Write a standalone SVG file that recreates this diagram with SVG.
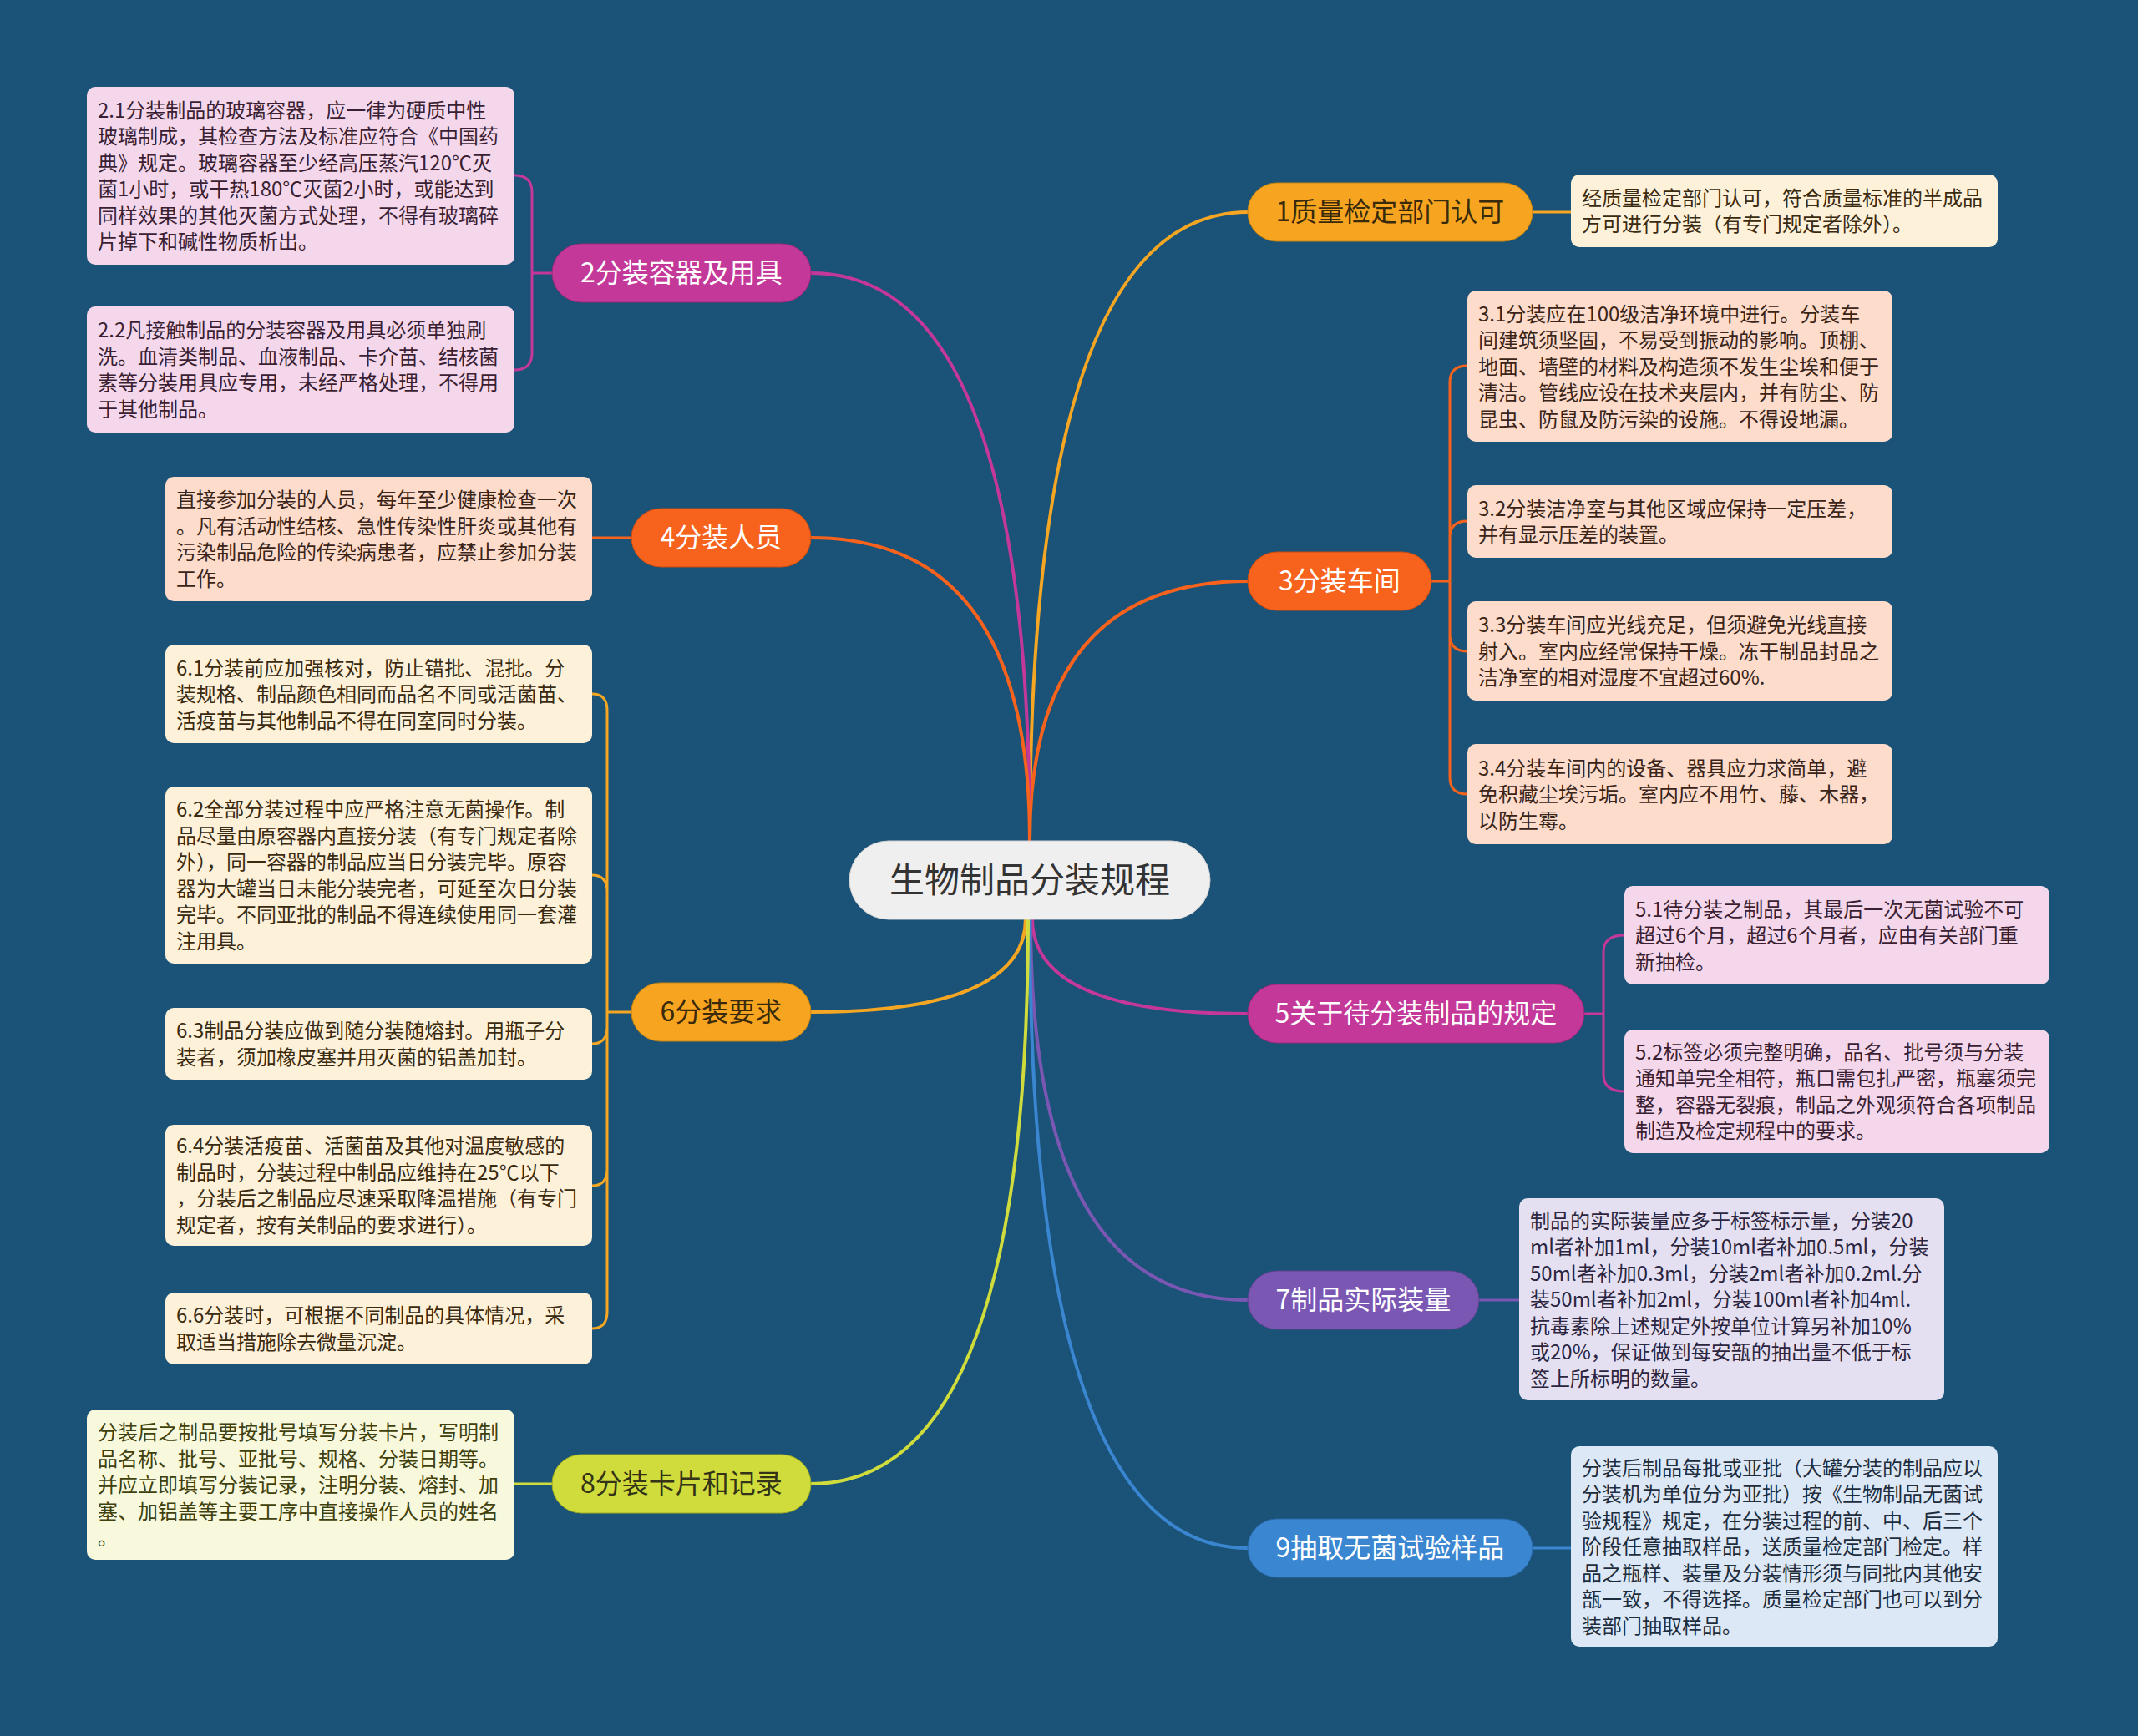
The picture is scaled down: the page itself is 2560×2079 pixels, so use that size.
<svg xmlns="http://www.w3.org/2000/svg" width="2560" height="2079" viewBox="0 0 2560 2079">
<style>
text{font-family:"Noto Sans CJK SC","Noto Sans",sans-serif}
.leaf{font-size:24px}
.br{font-size:32px;text-anchor:middle}
.w{fill:#ffffff}
.d{fill:#3a2a0c}
.c{fill:none;stroke-width:4;stroke-linecap:round}
.lk{fill:none;stroke-width:3;stroke-linecap:round}
</style>
<rect width="2560" height="2079" fill="#1a5377"/>
<g id="connectors">
<path class="c" stroke="#f5a623" d="M1233 1007 Q1233 254 1494 254"/>
<path class="c" stroke="#f7621d" d="M1233 1007 Q1233 696 1494 696"/>
<path class="c" stroke="#c4389a" d="M1233 1007 Q1233 327 971 327"/>
<path class="c" stroke="#f7621d" d="M1233 1007 Q1233 644 971 644"/>
<path class="c" stroke="#c4389a" d="M1236 1100 Q1236 1214 1494 1214"/>
<path class="c" stroke="#7b57b4" d="M1234 1100 Q1234 1557 1494 1557"/>
<path class="c" stroke="#3a86d1" d="M1233 1100 Q1233 1854 1494 1854"/>
<path class="c" stroke="#f5a623" d="M1228 1100 Q1228 1212 971 1212"/>
<path class="c" stroke="#cfdc3c" d="M1231 1100 Q1231 1777 971 1777"/>
<path class="lk" stroke="#f5a623" d="M1835 254 L1881 254"/>
<path class="lk" stroke="#f7621d" d="M1714 696 H1736 M1736 696 V458 Q1736 438 1757 438 M1736 696 V644 Q1736 624 1757 624 M1736 696 V760 Q1736 780 1757 780 M1736 696 V931 Q1736 951 1757 951"/>
<path class="lk" stroke="#c4389a" d="M661 327 H637 M637 327 V230 Q637 210 616 210 M637 327 V423 Q637 443 616 443"/>
<path class="lk" stroke="#f7621d" d="M756 644 L709 644"/>
<path class="lk" stroke="#f5a623" d="M756 1212 H727 M727 1212 V851 Q727 831 709 831 M727 1212 V1068 Q727 1048 709 1048 M727 1212 V1230 Q727 1250 709 1250 M727 1212 V1400 Q727 1420 709 1420 M727 1212 V1571 Q727 1591 709 1591"/>
<path class="lk" stroke="#c4389a" d="M1897 1214 H1920 M1920 1214 V1140 Q1920 1120 1945 1120 M1920 1214 V1287 Q1920 1307 1945 1307"/>
<path class="lk" stroke="#7b57b4" d="M1771 1557 L1819 1557"/>
<path class="lk" stroke="#3a86d1" d="M1835 1854 L1881 1854"/>
<path class="lk" stroke="#cfdc3c" d="M661 1777 L616 1777"/>
</g>
<g id="center">
<rect x="1017" y="1007" width="432" height="94" rx="47" fill="#efefef" stroke="#d0d0d0"/>
<text x="1233" y="1069" font-size="42" text-anchor="middle" fill="#333333">生物制品分装规程</text>
</g>
<g id="n1">
<rect x="1494" y="219" width="341" height="70" rx="35" fill="#f7a520" stroke="#c88410"/>
<text class="br d" x="1664.5" y="265">1质量检定部门认可</text>
</g>
<g id="n3">
<rect x="1494" y="661" width="220" height="70" rx="35" fill="#f7621d" stroke="#c84c10"/>
<text class="br w" x="1604" y="707">3分装车间</text>
</g>
<g id="n5">
<rect x="1494" y="1179" width="403" height="70" rx="35" fill="#c4389a" stroke="#9a2a78"/>
<text class="br w" x="1695.5" y="1225">5关于待分装制品的规定</text>
</g>
<g id="n7">
<rect x="1494" y="1522" width="277" height="70" rx="35" fill="#7b57b4" stroke="#5e4190"/>
<text class="br w" x="1632.5" y="1568">7制品实际装量</text>
</g>
<g id="n9">
<rect x="1494" y="1819" width="341" height="70" rx="35" fill="#3a86d1" stroke="#2a68a8"/>
<text class="br w" x="1664.5" y="1865">9抽取无菌试验样品</text>
</g>
<g id="n2">
<rect x="661" y="292" width="310" height="70" rx="35" fill="#c4389a" stroke="#9a2a78"/>
<text class="br w" x="816" y="338">2分装容器及用具</text>
</g>
<g id="n4">
<rect x="756" y="609" width="215" height="70" rx="35" fill="#f7621d" stroke="#c84c10"/>
<text class="br w" x="863.5" y="655">4分装人员</text>
</g>
<g id="n6">
<rect x="756" y="1177" width="215" height="70" rx="35" fill="#f7a520" stroke="#c88410"/>
<text class="br d" x="863.5" y="1223">6分装要求</text>
</g>
<g id="n8">
<rect x="661" y="1742" width="310" height="70" rx="35" fill="#cfdc3c" stroke="#a0ae20"/>
<text class="br" x="816" y="1788" fill="#333318">8分装卡片和记录</text>
</g>
<g id="leaf1">
<rect x="1881" y="209" width="511" height="87" rx="10" fill="#fef1d9"/>
<text class="leaf" fill="#3a2a10" x="1894" y="245.75"><tspan x="1894">经质量检定部门认可，符合质量标准的半成品</tspan><tspan x="1894" dy="31.5">方可进行分装（有专门规定者除外）。</tspan></text>
</g>
<g id="leaf2-1">
<rect x="104" y="104" width="512" height="213" rx="10" fill="#f5d7ec"/>
<text class="leaf" fill="#3a1f33" y="140.75"><tspan x="117">2.1分装制品的玻璃容器，应一律为硬质中性</tspan><tspan x="117" dy="31.5">玻璃制成，其检查方法及标准应符合《中国药</tspan><tspan x="117" dy="31.5">典》规定。玻璃容器至少经高压蒸汽120℃灭</tspan><tspan x="117" dy="31.5">菌1小时，或干热180℃灭菌2小时，或能达到</tspan><tspan x="117" dy="31.5">同样效果的其他灭菌方式处理，不得有玻璃碎</tspan><tspan x="117" dy="31.5">片掉下和碱性物质析出。</tspan></text>
</g>
<g id="leaf2-2">
<rect x="104" y="367" width="512" height="151" rx="10" fill="#f5d7ec"/>
<text class="leaf" fill="#3a1f33" y="404.25"><tspan x="117">2.2凡接触制品的分装容器及用具必须单独刷</tspan><tspan x="117" dy="31.5">洗。血清类制品、血液制品、卡介苗、结核菌</tspan><tspan x="117" dy="31.5">素等分装用具应专用，未经严格处理，不得用</tspan><tspan x="117" dy="31.5">于其他制品。</tspan></text>
</g>
<g id="leaf4">
<rect x="198" y="571" width="511" height="149" rx="10" fill="#fddccb"/>
<text class="leaf" fill="#3a2418" y="607.25"><tspan x="211">直接参加分装的人员，每年至少健康检查一次</tspan><tspan x="211" dy="31.5">。凡有活动性结核、急性传染性肝炎或其他有</tspan><tspan x="211" dy="31.5">污染制品危险的传染病患者，应禁止参加分装</tspan><tspan x="211" dy="31.5">工作。</tspan></text>
</g>
<g id="leaf6-1">
<rect x="198" y="772" width="511" height="118" rx="10" fill="#fef1d9"/>
<text class="leaf" fill="#3a2a10" y="808.5"><tspan x="211">6.1分装前应加强核对，防止错批、混批。分</tspan><tspan x="211" dy="31.5">装规格、制品颜色相同而品名不同或活菌苗、</tspan><tspan x="211" dy="31.5">活疫苗与其他制品不得在同室同时分装。</tspan></text>
</g>
<g id="leaf6-2">
<rect x="198" y="942" width="511" height="212" rx="10" fill="#fef1d9"/>
<text class="leaf" fill="#3a2a10" y="978.25"><tspan x="211">6.2全部分装过程中应严格注意无菌操作。制</tspan><tspan x="211" dy="31.5">品尽量由原容器内直接分装（有专门规定者除</tspan><tspan x="211" dy="31.5">外），同一容器的制品应当日分装完毕。原容</tspan><tspan x="211" dy="31.5">器为大罐当日未能分装完者，可延至次日分装</tspan><tspan x="211" dy="31.5">完毕。不同亚批的制品不得连续使用同一套灌</tspan><tspan x="211" dy="31.5">注用具。</tspan></text>
</g>
<g id="leaf6-3">
<rect x="198" y="1207" width="511" height="86" rx="10" fill="#fef1d9"/>
<text class="leaf" fill="#3a2a10" y="1243.25"><tspan x="211">6.3制品分装应做到随分装随熔封。用瓶子分</tspan><tspan x="211" dy="31.5">装者，须加橡皮塞并用灭菌的铝盖加封。</tspan></text>
</g>
<g id="leaf6-4">
<rect x="198" y="1347" width="511" height="145" rx="10" fill="#fef1d9"/>
<text class="leaf" fill="#3a2a10" y="1381.25"><tspan x="211">6.4分装活疫苗、活菌苗及其他对温度敏感的</tspan><tspan x="211" dy="31.5">制品时，分装过程中制品应维持在25℃以下</tspan><tspan x="211" dy="31.5">，分装后之制品应尽速采取降温措施（有专门</tspan><tspan x="211" dy="31.5">规定者，按有关制品的要求进行）。</tspan></text>
</g>
<g id="leaf6-6">
<rect x="198" y="1548" width="511" height="86" rx="10" fill="#fef1d9"/>
<text class="leaf" fill="#3a2a10" y="1584.25"><tspan x="211">6.6分装时，可根据不同制品的具体情况，采</tspan><tspan x="211" dy="31.5">取适当措施除去微量沉淀。</tspan></text>
</g>
<g id="leaf8">
<rect x="104" y="1688" width="512" height="180" rx="10" fill="#f7f8dc"/>
<text class="leaf" fill="#40400c" y="1724"><tspan x="117">分装后之制品要按批号填写分装卡片，写明制</tspan><tspan x="117" dy="31.5">品名称、批号、亚批号、规格、分装日期等。</tspan><tspan x="117" dy="31.5">并应立即填写分装记录，注明分装、熔封、加</tspan><tspan x="117" dy="31.5">塞、加铝盖等主要工序中直接操作人员的姓名</tspan><tspan x="117" dy="31.5">。</tspan></text>
</g>
<g id="leaf3-1">
<rect x="1757" y="348" width="509" height="181" rx="10" fill="#fddccb"/>
<text class="leaf" fill="#3a2418" y="384.5"><tspan x="1770">3.1分装应在100级洁净环境中进行。分装车</tspan><tspan x="1770" dy="31.5">间建筑须坚固，不易受到振动的影响。顶棚、</tspan><tspan x="1770" dy="31.5">地面、墙壁的材料及构造须不发生尘埃和便于</tspan><tspan x="1770" dy="31.5">清洁。管线应设在技术夹层内，并有防尘、防</tspan><tspan x="1770" dy="31.5">昆虫、防鼠及防污染的设施。不得设地漏。</tspan></text>
</g>
<g id="leaf3-2">
<rect x="1757" y="581" width="509" height="87" rx="10" fill="#fddccb"/>
<text class="leaf" fill="#3a2418" y="617.75"><tspan x="1770">3.2分装洁净室与其他区域应保持一定压差，</tspan><tspan x="1770" dy="31.5">并有显示压差的装置。</tspan></text>
</g>
<g id="leaf3-3">
<rect x="1757" y="720" width="509" height="119" rx="10" fill="#fddccb"/>
<text class="leaf" fill="#3a2418" y="757"><tspan x="1770">3.3分装车间应光线充足，但须避免光线直接</tspan><tspan x="1770" dy="31.5">射入。室内应经常保持干燥。冻干制品封品之</tspan><tspan x="1770" dy="31.5">洁净室的相对湿度不宜超过60%.</tspan></text>
</g>
<g id="leaf3-4">
<rect x="1757" y="891" width="509" height="120" rx="10" fill="#fddccb"/>
<text class="leaf" fill="#3a2418" y="928.5"><tspan x="1770">3.4分装车间内的设备、器具应力求简单，避</tspan><tspan x="1770" dy="31.5">免积藏尘埃污垢。室内应不用竹、藤、木器，</tspan><tspan x="1770" dy="31.5">以防生霉。</tspan></text>
</g>
<g id="leaf5-1">
<rect x="1945" y="1061" width="509" height="118" rx="10" fill="#f5d7ec"/>
<text class="leaf" fill="#3a1f33" y="1097.5"><tspan x="1958">5.1待分装之制品，其最后一次无菌试验不可</tspan><tspan x="1958" dy="31.5">超过6个月，超过6个月者，应由有关部门重</tspan><tspan x="1958" dy="31.5">新抽检。</tspan></text>
</g>
<g id="leaf5-2">
<rect x="1945" y="1233" width="509" height="148" rx="10" fill="#f5d7ec"/>
<text class="leaf" fill="#3a1f33" y="1268.75"><tspan x="1958">5.2标签必须完整明确，品名、批号须与分装</tspan><tspan x="1958" dy="31.5">通知单完全相符，瓶口需包扎严密，瓶塞须完</tspan><tspan x="1958" dy="31.5">整，容器无裂痕，制品之外观须符合各项制品</tspan><tspan x="1958" dy="31.5">制造及检定规程中的要求。</tspan></text>
</g>
<g id="leaf7">
<rect x="1819" y="1435" width="509" height="242" rx="10" fill="#e5e0f1"/>
<text class="leaf" fill="#2b2540" y="1470.5"><tspan x="1832">制品的实际装量应多于标签标示量，分装20</tspan><tspan x="1832" dy="31.5">ml者补加1ml，分装10ml者补加0.5ml，分装</tspan><tspan x="1832" dy="31.5">50ml者补加0.3ml，分装2ml者补加0.2ml.分</tspan><tspan x="1832" dy="31.5">装50ml者补加2ml，分装100ml者补加4ml.</tspan><tspan x="1832" dy="31.5">抗毒素除上述规定外按单位计算另补加10%</tspan><tspan x="1832" dy="31.5">或20%，保证做到每安瓿的抽出量不低于标</tspan><tspan x="1832" dy="31.5">签上所标明的数量。</tspan></text>
</g>
<g id="leaf9">
<rect x="1881" y="1732" width="511" height="240" rx="10" fill="#dce8f5"/>
<text class="leaf" fill="#1e2d3d" y="1766.5"><tspan x="1894">分装后制品每批或亚批（大罐分装的制品应以</tspan><tspan x="1894" dy="31.5">分装机为单位分为亚批）按《生物制品无菌试</tspan><tspan x="1894" dy="31.5">验规程》规定，在分装过程的前、中、后三个</tspan><tspan x="1894" dy="31.5">阶段任意抽取样品，送质量检定部门检定。样</tspan><tspan x="1894" dy="31.5">品之瓶样、装量及分装情形须与同批内其他安</tspan><tspan x="1894" dy="31.5">瓿一致，不得选择。质量检定部门也可以到分</tspan><tspan x="1894" dy="31.5">装部门抽取样品。</tspan></text>
</g>
</svg>
